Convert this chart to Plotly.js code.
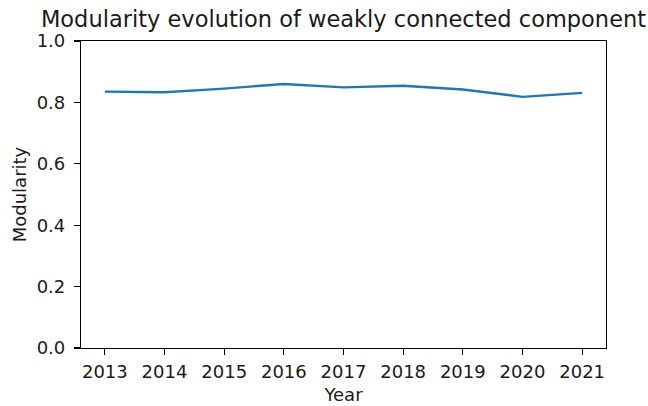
<!DOCTYPE html>
<html>
<head>
<meta charset="utf-8">
<script src="https://cdn.plot.ly/plotly-3.0.1.min.js"></script>
<style>
  html, body { margin: 0; padding: 0; background: #ffffff; }
  #chart { width: 648px; height: 406px; }
</style>
</head>
<body>
<div id="chart"></div>
<script>
// Yearly modularity of the weakly connected component
const years = [2013, 2014, 2015, 2016, 2017, 2018, 2019, 2020, 2021];
const modularity = [0.835, 0.833, 0.845, 0.860, 0.849, 0.854, 0.842, 0.818, 0.831];
const yTicks = [0.0, 0.2, 0.4, 0.6, 0.8, 1.0];

const textColor = '#1a1a1a';
const fontFamily = '"DejaVu Sans", sans-serif';

const trace = {
  x: years,
  y: modularity,
  type: 'scatter',
  mode: 'lines',
  line: { color: '#1f77b4', width: 2.4 },
  hoverinfo: 'x+y'
};

const axisCommon = {
  showline: true,
  linecolor: '#000000',
  linewidth: 1.1,
  mirror: true,
  showgrid: false,
  zeroline: false,
  ticks: 'outside',
  ticklen: 6,
  tickwidth: 1.1,
  tickcolor: '#000000',
  tickfont: { family: fontFamily, size: 18, color: textColor }
};

const layout = {
  width: 648,
  height: 406,
  margin: { l: 81, r: 42, t: 41, b: 58, pad: 0 },
  paper_bgcolor: '#ffffff',
  plot_bgcolor: '#ffffff',
  showlegend: false,
  title: {
    text: 'Modularity evolution of weakly connected component',
    font: { family: fontFamily, size: 22.5, color: textColor },
    x: 0.5,
    xref: 'paper',
    xanchor: 'center',
    y: 1 - 19.5 / 406,
    yref: 'container',
    yanchor: 'middle'
  },
  xaxis: Object.assign({}, axisCommon, {
    range: [2012.6, 2021.4],
    tickmode: 'array',
    tickvals: years,
    ticktext: years.map(String),
    ticklabelstandoff: 1,
    title: {
      text: 'Year',
      font: { family: fontFamily, size: 18, color: textColor },
      standoff: 7
    }
  }),
  yaxis: Object.assign({}, axisCommon, {
    range: [0, 1],
    tickmode: 'array',
    tickvals: yTicks,
    ticktext: yTicks.map(v => v.toFixed(1)),
    ticklabelstandoff: 5,
    title: {
      text: 'Modularity',
      font: { family: fontFamily, size: 18, color: textColor },
      standoff: 5
    }
  })
};

Plotly.newPlot('chart', [trace], layout, { displayModeBar: false, staticPlot: true });
</script>
</body>
</html>
